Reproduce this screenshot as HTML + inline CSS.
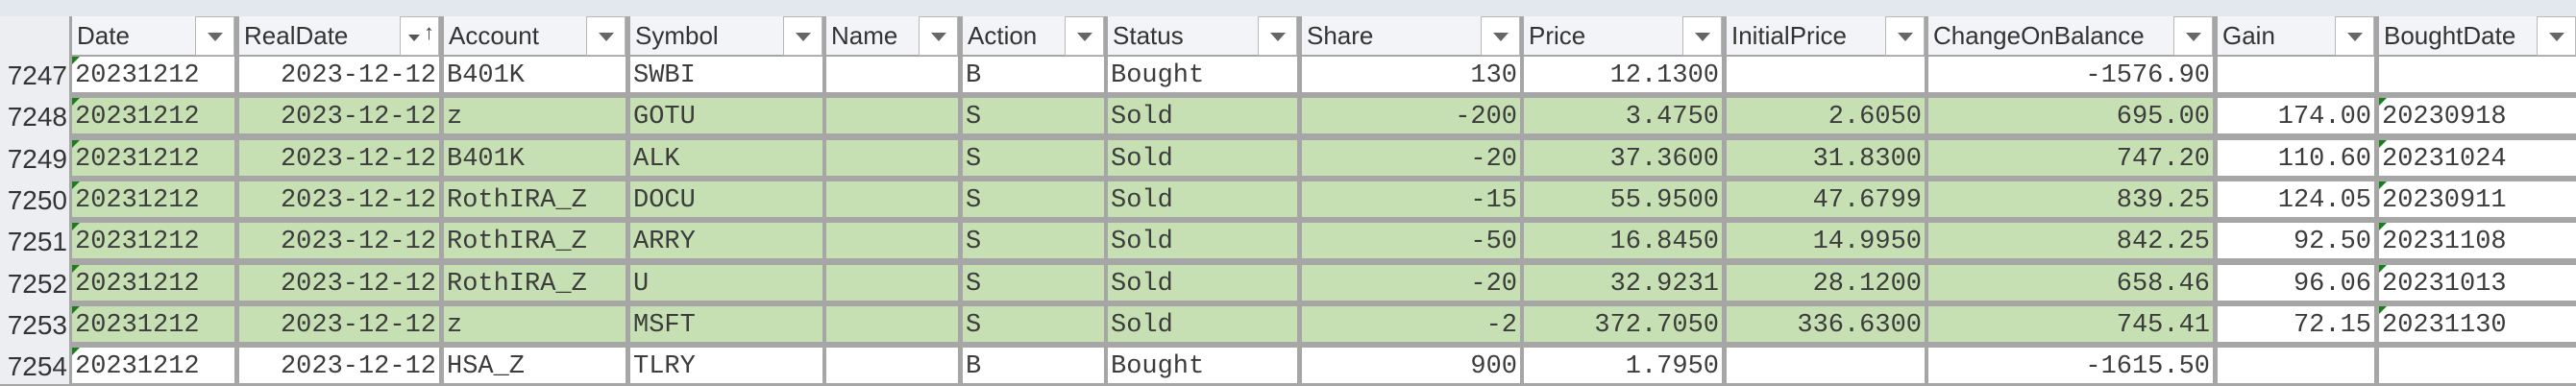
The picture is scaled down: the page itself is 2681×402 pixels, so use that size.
<!DOCTYPE html>
<html><head><meta charset="utf-8"><style>
body{margin:0;width:2681px;height:400px;overflow:hidden;background:#a6a6a6;position:relative;font-family:"Liberation Sans",sans-serif}
.top{position:absolute;left:0;top:0;width:2681px;height:17px;background:#e3e7ee}
.rn{position:absolute;left:0;top:17px;width:72px;height:383px;background:#eceef1}
.hdr{position:absolute;top:17px;height:40px;background:#f2f4f7;font-size:26px;color:#333;line-height:40px;padding-left:5px;box-sizing:border-box}
.dd{position:absolute;top:17px;width:41px;height:41px;background:#fff;border:1px solid #b8b8b8;box-sizing:border-box}
.dd:after{content:"";position:absolute;left:12px;top:16px;border-left:8px solid transparent;border-right:8px solid transparent;border-top:9px solid #666}
.dd.sort:after{display:none}
.cell{position:absolute;height:37px;line-height:40px;font-family:"Liberation Mono",monospace;font-size:27px;color:#3c3c3c;box-sizing:border-box;padding:0 3px;white-space:nowrap;overflow:hidden}
.g{background:#c6e0b4}.w{background:#fff}
.r{text-align:right}
.num{position:absolute;left:0;width:72px;text-align:right;font-size:28px;color:#333;line-height:40px;padding-right:2px;box-sizing:border-box}
.tri{position:absolute;width:0;height:0;border-top:8px solid #1a7f1a;border-right:8px solid transparent}
</style></head><body>
<div class="top"></div>
<div class="rn"></div>
<script>
const headers=["Date","RealDate","Account","Symbol","Name","Action","Status","Share","Price","InitialPrice","ChangeOnBalance","Gain","BoughtDate"];
const colStart=[75,249,462,656,860,1002,1153,1355,1586,1797,2007,2308,2476];
const colEnd=[244,457,651,856,997,1149,1350,1582,1792,2003,2303,2471,2681];
const rightAlign=[false,true,false,false,false,false,false,true,true,true,true,true,false];
const rowNums=["7247","7248","7249","7250","7251","7252","7253","7254"];
const rows=[
["20231212","2023-12-12","B401K","SWBI","","B","Bought","130","12.1300","","-1576.90","",""],
["20231212","2023-12-12","z","GOTU","","S","Sold","-200","3.4750","2.6050","695.00","174.00","20230918"],
["20231212","2023-12-12","B401K","ALK","","S","Sold","-20","37.3600","31.8300","747.20","110.60","20231024"],
["20231212","2023-12-12","RothIRA_Z","DOCU","","S","Sold","-15","55.9500","47.6799","839.25","124.05","20230911"],
["20231212","2023-12-12","RothIRA_Z","ARRY","","S","Sold","-50","16.8450","14.9950","842.25","92.50","20231108"],
["20231212","2023-12-12","RothIRA_Z","U","","S","Sold","-20","32.9231","28.1200","658.46","96.06","20231013"],
["20231212","2023-12-12","z","MSFT","","S","Sold","-2","372.7050","336.6300","745.41","72.15","20231130"],
["20231212","2023-12-12","HSA_Z","TLRY","","B","Bought","900","1.7950","","-1615.50","",""]];
const green=[false,true,true,true,true,true,true,false];
const b=document.body;
for(let i=0;i<headers.length;i++){
 const h=document.createElement('div');h.className='hdr';
 
 
 h.style.left=colStart[i]+'px';h.style.width=(colEnd[i]-colStart[i])+'px';h.textContent=headers[i];b.appendChild(h);
 const d=document.createElement('div');d.className='dd'+(i==1?' sort':'');
 
 
 d.style.left=(colEnd[i]-41)+'px';
 if(i==1){d.innerHTML='<span style="position:absolute;left:8px;top:18px;border-left:6px solid transparent;border-right:6px solid transparent;border-top:7px solid #555"></span><span style="position:absolute;left:24px;top:5px;font-size:22px;color:#444;line-height:22px">↑</span>';}
 b.appendChild(d);
}
for(let r=0;r<rows.length;r++){
 const top=59+r*43.3;
 const n=document.createElement('div');n.className='num';
 
 
 n.style.top=top+'px';n.textContent=rowNums[r];b.appendChild(n);
 for(let c=0;c<headers.length;c++){
  const e=document.createElement('div');
  const isG=green[r]&&c<=10;
  e.className='cell '+(isG?'g':'w')+(rightAlign[c]?' r':'');
  
  
  e.style.left=colStart[c]+'px';e.style.top=top+'px';e.style.width=(colEnd[c]-colStart[c])+'px';
  e.textContent=rows[r][c];b.appendChild(e);
  if(c==0||(c==12&&rows[r][c])){
   const t=document.createElement('div');t.className='tri';
   
   
   t.style.left=colStart[c]+'px';t.style.top=top+'px';b.appendChild(t);
  }
 }
}
</script>
</body></html>
